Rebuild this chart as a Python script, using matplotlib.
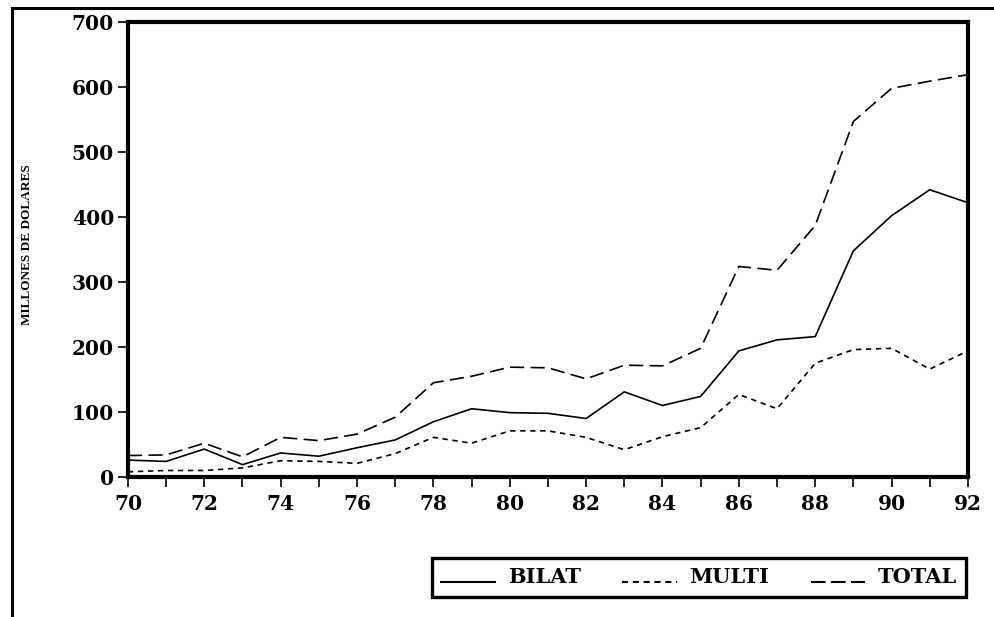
import matplotlib
matplotlib.use("Agg")
import numpy as np
import matplotlib.pyplot as plt
from matplotlib.lines import Line2D

# Datos (millones de dólares)
anios = list(range(70, 93))
bilat = [26, 24, 43, 19, 37, 32, 45, 57, 85, 105, 99, 98, 90, 131, 110, 124,
         194, 211, 216, 348, 402, 442, 422]
multi = [8, 10, 10, 14, 25, 24, 21, 36, 61, 52, 71, 71, 61, 42, 62, 76,
         127, 105, 175, 196, 198, 166, 194]
total = [33, 34, 52, 31, 61, 56, 66, 92, 145, 155, 169, 168, 151, 172, 171, 198,
         324, 318, 387, 547, 598, 609, 619]
etiquetas_x = [str(a) for a in range(70, 93, 2)]

fuente = ["DejaVu Serif"]

fig = plt.figure(figsize=(9.95, 6.17), dpi=100)
ax = fig.add_axes([0.1286, 0.2269, 0.8442, 0.7374])

lw = 1.2
ax.plot(anios, bilat, color="black", lw=lw, linestyle="-", label="BILAT")
ax.plot(anios, multi, color="black", lw=lw, linestyle=(0, (3.2, 2.8)), label="MULTI")
ax.plot(anios, total, color="black", lw=lw, linestyle=(0, (8.5, 3.8)), label="TOTAL")

ax.set_xlim(70, 92)
ax.set_ylim(0, 700)
ax.set_xticks(anios, minor=True)
ax.set_xticks(list(range(70, 93, 2)))
ax.set_xticklabels(etiquetas_x)
ax.set_yticks(range(0, 701, 100))

for s in ax.spines.values():
    s.set_linewidth(3)
ax.tick_params(axis="both", which="both", direction="out", length=7, width=1.2,
               labelsize=14.5, pad=3)
ax.tick_params(axis="x", pad=5)
for lab in ax.get_xticklabels() + ax.get_yticklabels():
    lab.set_family(fuente)
    lab.set_fontweight("bold")

fig.text(27 / 995, 1 - 245 / 617, "MILLONES DE DOLARES", rotation=90,
         ha="center", va="center", fontsize=9.5, fontweight="heavy",
         family=["Liberation Serif"])

leg = fig.legend(loc="upper right", bbox_to_anchor=(966 / 995, 1 - 558 / 617),
                 ncol=3, frameon=True, fancybox=False, edgecolor="black",
                 framealpha=1, handlelength=2.6, columnspacing=2.0,
                 handletextpad=0.6, borderpad=0.45, borderaxespad=0,
                 prop={"family": fuente, "weight": "bold", "size": 15})
leg.get_frame().set_linewidth(2.4)
h_bilat, h_multi, h_total = leg.get_lines()
for h in (h_bilat, h_multi, h_total):
    h.set_linewidth(1.5)
    # las muestras van a la altura de la base del texto
    h.set_ydata(np.asarray(h.get_ydata()) - 4)
# patrones de trazos del recuadro: 5 trazos cortos / 3 largos
h_multi.set_linestyle((0, (2.9, 2.3)))
h_total.set_linestyle((0, (7.0, 2.6)))

# Marco exterior (solo izquierda y arriba visibles)
fig.add_artist(Line2D([12 / 995, 12 / 995], [0, 1 - 8 / 617], color="black", lw=2.2,
                      transform=fig.transFigure))
fig.add_artist(Line2D([12 / 995, 1], [1 - 8 / 617, 1 - 8 / 617], color="black", lw=2.2,
                      transform=fig.transFigure))

fig.savefig("out.png", dpi=100)
